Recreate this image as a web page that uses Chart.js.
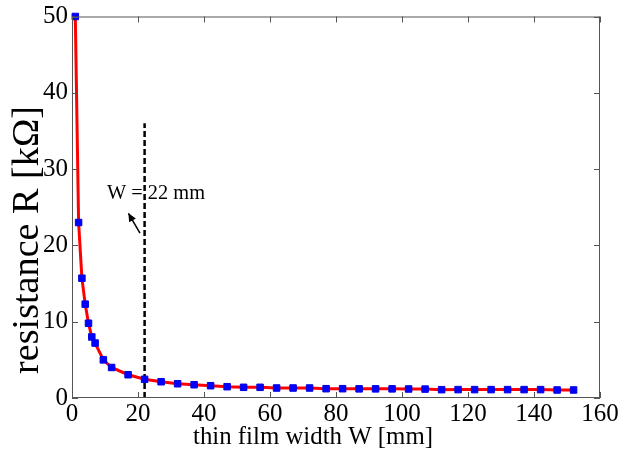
<!DOCTYPE html>
<html>
<head>
<meta charset="utf-8">
<script src="https://cdn.jsdelivr.net/npm/chart.js@4/dist/chart.umd.min.js"></script>
<style>
html,body{margin:0;padding:0;background:#fff;}
#wrap{width:623px;height:458px;position:relative;}
</style>
</head>
<body>
<div id="wrap"><canvas id="c" width="623" height="458"></canvas></div>
<script>
// ---- data ----
const widthsMM = [1,2,3,4,5,6,7,9.5,12,17,22,27,32,37,42,47,52,57,62,67,72,77,82,87,92,97,102,107,112,117,122,127,132,137,142,147,152];
const resistanceK = [50,23,15.7,12.3,9.8,8.0,7.2,5.0,4.0,3.05,2.45,2.13,1.87,1.74,1.61,1.48,1.4,1.4,1.31,1.31,1.31,1.22,1.22,1.2,1.2,1.2,1.18,1.17,1.09,1.1,1.1,1.1,1.1,1.1,1.1,1.05,1.05];
const markerW = [22, 22];
const markerR = [0, 36];
const xTicks = [0,20,40,60,80,100,120,140,160];
const yTicks = [0,10,20,30,40,50];
const xTitle = 'thin film width W [mm]';
const yTitle = 'resistance R [kΩ]';
const noteText = 'W = 22 mm';
const notePos = {x: 10.6, y: 26.8};
const arrowFrom = {x: 20.6, y: 21.6};
const arrowTo = {x: 17.1, y: 24.2};

const FONT = '"Liberation Serif", "Times New Roman", serif';

function fitFont(ctx, text, targetW) {
  ctx.font = '100px ' + FONT;
  const w = ctx.measureText(text).width;
  return 100 * targetW / w;
}

const framePlugin = {
  id: 'frame',
  afterDatasetsDraw(chart) {
    const {ctx, chartArea: a, scales} = chart;
    const xs = scales.x, ys = scales.y;
    ctx.save();
    ctx.strokeStyle = '#555';
    ctx.lineWidth = 1;
    ctx.beginPath();
    ctx.moveTo(a.left, a.top + 0.5); ctx.lineTo(a.right, a.top + 0.5);
    ctx.moveTo(a.right - 0.5, a.top); ctx.lineTo(a.right - 0.5, a.bottom);
    ctx.moveTo(a.left + 0.5, a.top); ctx.lineTo(a.left + 0.5, a.bottom);
    ctx.moveTo(a.left, a.bottom - 0.5); ctx.lineTo(a.right, a.bottom - 0.5);
    const tl = 6;
    xTicks.forEach(v => {
      const px = Math.round(xs.getPixelForValue(v)) + 0.5;
      ctx.moveTo(px, a.bottom); ctx.lineTo(px, a.bottom - tl);
      ctx.moveTo(px, a.top); ctx.lineTo(px, a.top + tl);
    });
    yTicks.forEach(v => {
      const py = Math.round(ys.getPixelForValue(v)) + 0.5;
      ctx.moveTo(a.left, py); ctx.lineTo(a.left + tl, py);
      ctx.moveTo(a.right, py); ctx.lineTo(a.right - tl, py);
    });
    ctx.stroke();
    ctx.restore();
  },
  afterDraw(chart) {
    const {ctx, scales} = chart;
    const xs = scales.x, ys = scales.y;
    ctx.save();
    ctx.fillStyle = '#000';
    // annotation text
    ctx.font = fitFont(ctx, noteText, 98).toFixed(2) + 'px ' + FONT;
    ctx.textAlign = 'left';
    ctx.textBaseline = 'middle';
    ctx.fillText(noteText, xs.getPixelForValue(notePos.x), ys.getPixelForValue(notePos.y));
    // arrow
    const x1 = xs.getPixelForValue(arrowFrom.x), y1 = ys.getPixelForValue(arrowFrom.y);
    const x2 = xs.getPixelForValue(arrowTo.x), y2 = ys.getPixelForValue(arrowTo.y);
    ctx.strokeStyle = '#000';
    ctx.lineWidth = 1.5;
    ctx.beginPath(); ctx.moveTo(x1, y1); ctx.lineTo(x2, y2); ctx.stroke();
    const ang = Math.atan2(y2 - y1, x2 - x1);
    const hl = 9, hw = 0.45;
    ctx.beginPath();
    ctx.moveTo(x2, y2);
    ctx.lineTo(x2 - hl * Math.cos(ang - hw), y2 - hl * Math.sin(ang - hw));
    ctx.lineTo(x2 - hl * Math.cos(ang + hw), y2 - hl * Math.sin(ang + hw));
    ctx.closePath(); ctx.fill();
    // axis titles
    ctx.textAlign = 'center';
    ctx.textBaseline = 'middle';
    ctx.font = fitFont(ctx, xTitle, 240).toFixed(2) + 'px ' + FONT;
    ctx.fillText(xTitle, 313, 437);
    ctx.font = fitFont(ctx, yTitle, 268).toFixed(2) + 'px ' + FONT;
    ctx.translate(28, 240);
    ctx.rotate(-Math.PI / 2);
    ctx.fillText(yTitle, 0, 0);
    ctx.restore();
  }
};

new Chart(document.getElementById('c'), {
  type: 'scatter',
  data: {
    datasets: [
      {
        label: 'R(W)',
        data: widthsMM.map((w, i) => ({x: w, y: resistanceK[i]})),
        showLine: true,
        borderColor: '#ff0000',
        borderWidth: 3,
        backgroundColor: '#0000ff',
        pointBackgroundColor: '#0000ff',
        pointBorderColor: '#0000e0',
        pointBorderWidth: 1,
        pointStyle: 'rect',
        pointRadius: 4.6,
        tension: 0,
        clip: false,
        order: 1
      },
      {
        label: 'W = 22 mm',
        data: markerW.map((w, i) => ({x: w, y: markerR[i]})),
        showLine: true,
        borderColor: '#000',
        borderWidth: 2.5,
        borderDash: [6, 3],
        pointRadius: 0,
        clip: false,
        order: 2
      }
    ]
  },
  options: {
    responsive: false,
    animation: false,
    events: [],
    layout: {padding: {top: 15, right: 23, left: 0, bottom: 0}},
    plugins: {legend: {display: false}, tooltip: {enabled: false}},
    scales: {
      x: {
        type: 'linear', min: 0, max: 160,
        afterFit(s) { s.height = 60; },
        afterBuildTicks(s) { s.ticks = xTicks.map(v => ({value: v})); },
        grid: {display: false, drawTicks: false, tickLength: 0},
        border: {display: false},
        ticks: {color: '#000', font: {family: FONT, size: 25, lineHeight: 1}, padding: 4, maxRotation: 0, autoSkip: false}
      },
      y: {
        type: 'linear', min: 0, max: 50,
        afterFit(s) { s.width = 72; },
        afterBuildTicks(s) { s.ticks = yTicks.map(v => ({value: v})); },
        grid: {display: false, drawTicks: false, tickLength: 0},
        border: {display: false},
        ticks: {color: '#000', font: {family: FONT, size: 25, lineHeight: 1}, padding: 4, autoSkip: false}
      }
    }
  },
  plugins: [framePlugin]
});
</script>
</body>
</html>
